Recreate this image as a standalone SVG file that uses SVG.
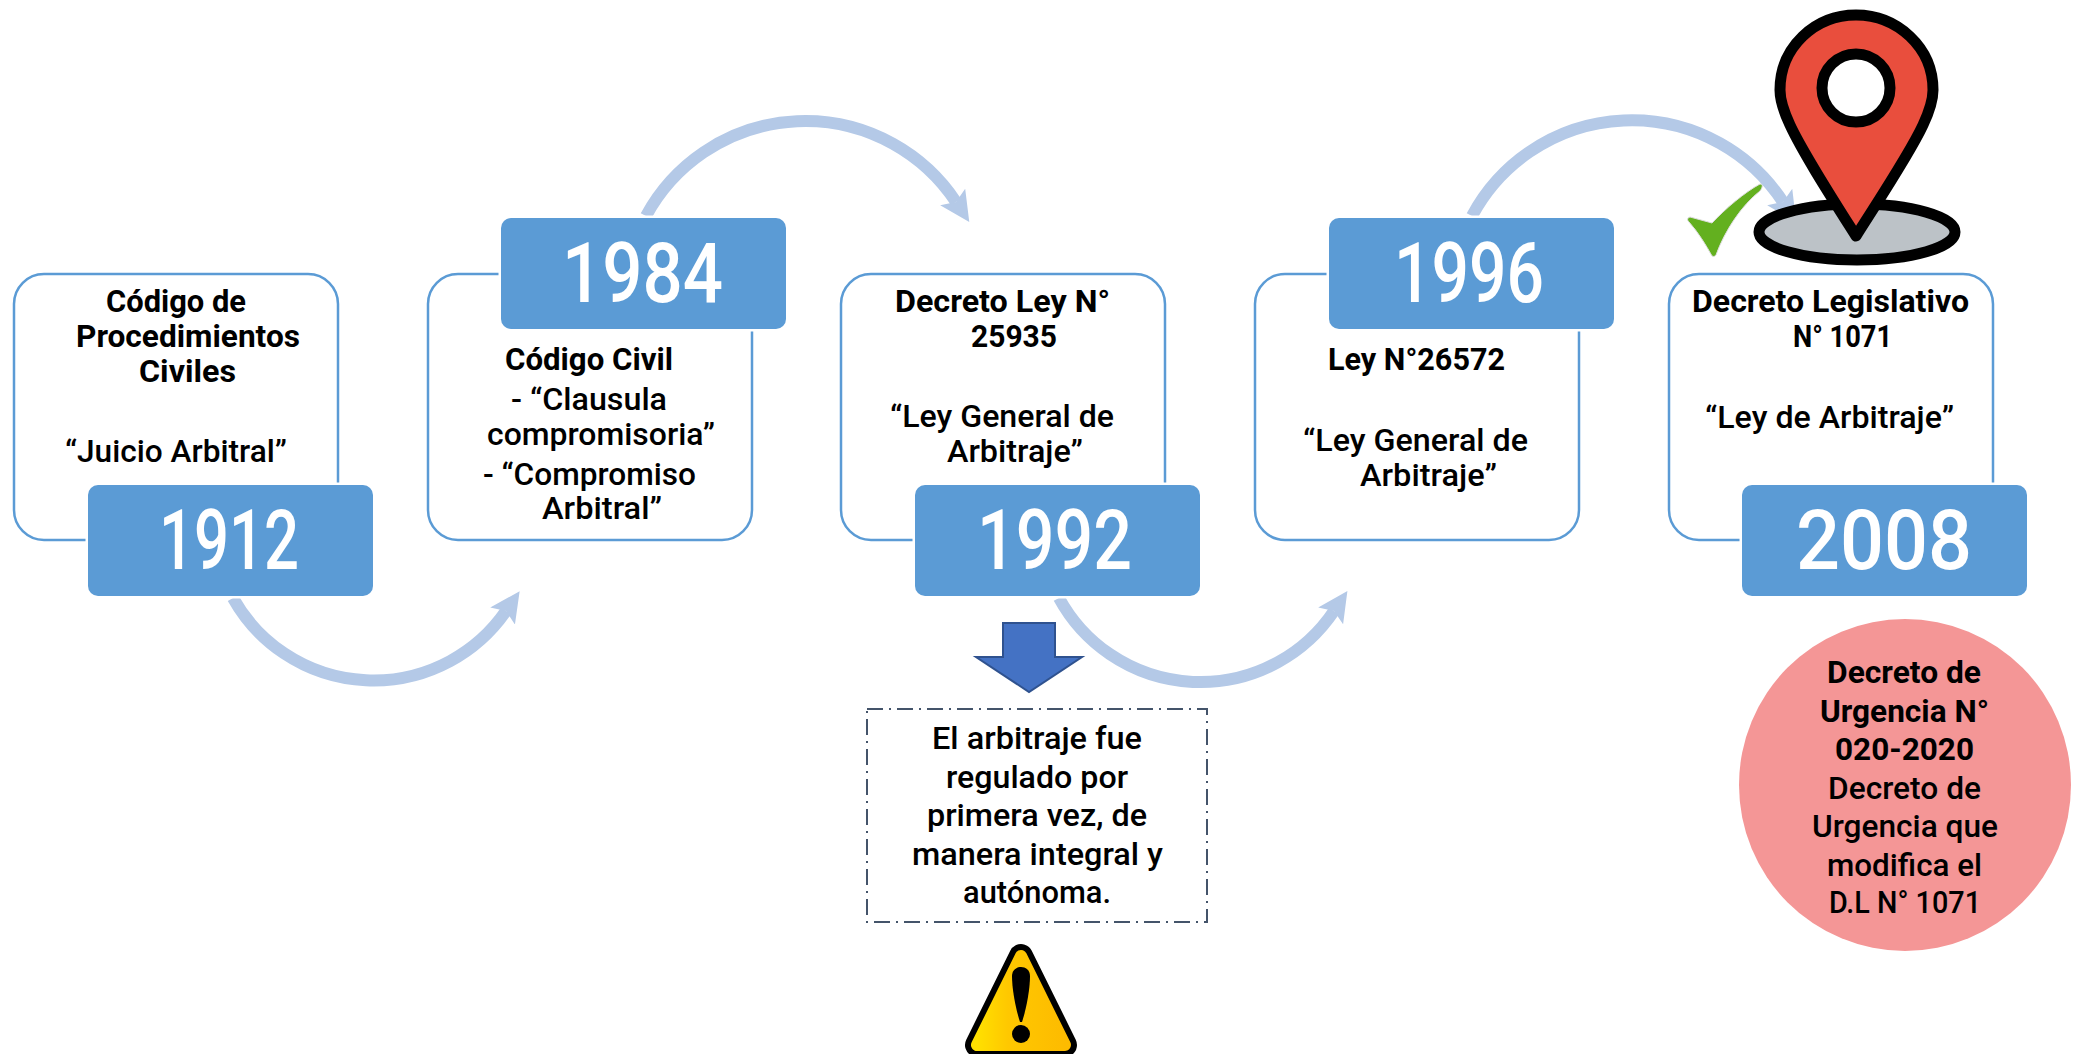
<svg xmlns="http://www.w3.org/2000/svg" width="2083" height="1054" viewBox="0 0 2083 1054">
<style>
text{font-family:Roboto,"Noto Sans",sans-serif;fill:#000;font-size:32px;font-weight:500}
.b{font-weight:700}
.y{fill:#fff;font-size:83px;font-weight:500}
.card{fill:#fff;stroke:#5b9bd5;stroke-width:2.5}
.year{fill:#5b9bd5;stroke:#fff;stroke-width:5;paint-order:stroke}
.arc{fill:none;stroke:#b4c9e7;stroke-width:12;marker-end:url(#h)}
</style>
<defs>
<marker id="h" markerUnits="userSpaceOnUse" markerWidth="40" markerHeight="40" refX="6" refY="20" orient="auto" viewBox="0 0 40 40"><path d="M0 5L30 20L0 35L6 20Z" fill="#b4c9e7"/></marker>
<linearGradient id="w" x1="0" x2="1" y1="0" y2="0"><stop offset="0" stop-color="#ffe000"/><stop offset=".35" stop-color="#ffc800"/><stop offset="1" stop-color="#fdbb00"/></linearGradient>
</defs>
<g id="connectors">
<path class="arc" d="M233 598A161 161 0 0 0 506 611"/>
<path class="arc" d="M646 216A181 181 0 0 1 956 202"/>
<path class="arc" d="M1059 598A161 161 0 0 0 1334 611"/>
<path class="arc" d="M1472 216A181 181 0 0 1 1783 202"/>
</g>
<g id="node-1912"><rect class="card" x="14" y="274" width="324" height="266" rx="30"/><rect class="year" x="88" y="485" width="285" height="111" rx="10"/>
<text class="y" x="159" y="569" textLength="140" lengthAdjust="spacingAndGlyphs">1912</text>
<text class="b" x="106" y="312" textLength="140" lengthAdjust="spacingAndGlyphs">Código de</text>
<text class="b" x="76" y="347" textLength="224" lengthAdjust="spacingAndGlyphs">Procedimientos</text>
<text class="b" x="139" y="382" textLength="97" lengthAdjust="spacingAndGlyphs">Civiles</text>
<text x="65" y="462" textLength="222" lengthAdjust="spacingAndGlyphs">“Juicio Arbitral”</text></g>
<g id="node-1984"><rect class="card" x="428" y="274" width="324" height="266" rx="30"/><rect class="year" x="501" y="218" width="285" height="111" rx="10"/>
<text class="y" x="562" y="302" textLength="161" lengthAdjust="spacingAndGlyphs">1984</text>
<text class="b" x="505" y="370" textLength="168" lengthAdjust="spacingAndGlyphs">Código Civil</text>
<text x="511" y="410" textLength="156" lengthAdjust="spacingAndGlyphs">- “Clausula</text>
<text x="487" y="445" textLength="228" lengthAdjust="spacingAndGlyphs">compromisoria”</text>
<text x="483" y="485" textLength="213" lengthAdjust="spacingAndGlyphs">- “Compromiso</text>
<text x="542" y="519" textLength="120" lengthAdjust="spacingAndGlyphs">Arbitral”</text></g>
<g id="node-1992"><rect class="card" x="841" y="274" width="324" height="266" rx="30"/><rect class="year" x="915" y="485" width="285" height="111" rx="10"/>
<text class="y" x="977" y="569" textLength="155" lengthAdjust="spacingAndGlyphs">1992</text>
<text class="b" x="895" y="312" textLength="215" lengthAdjust="spacingAndGlyphs">Decreto Ley N°</text>
<text class="b" x="971" y="347" textLength="86" lengthAdjust="spacingAndGlyphs">25935</text>
<text x="890" y="427" textLength="224" lengthAdjust="spacingAndGlyphs">“Ley General de</text>
<text x="947" y="462" textLength="136" lengthAdjust="spacingAndGlyphs">Arbitraje”</text></g>
<g id="node-1996"><rect class="card" x="1255" y="274" width="324" height="266" rx="30"/><rect class="year" x="1329" y="218" width="285" height="111" rx="10"/>
<text class="y" x="1394" y="302" textLength="150" lengthAdjust="spacingAndGlyphs">1996</text>
<text class="b" x="1328" y="370" textLength="177" lengthAdjust="spacingAndGlyphs">Ley N°26572</text>
<text x="1303" y="451" textLength="225" lengthAdjust="spacingAndGlyphs">“Ley General de</text>
<text x="1360" y="486" textLength="137" lengthAdjust="spacingAndGlyphs">Arbitraje”</text></g>
<g id="node-2008"><rect class="card" x="1669" y="274" width="324" height="266" rx="30"/><rect class="year" x="1742" y="485" width="285" height="111" rx="10"/>
<text class="y" x="1796" y="569" textLength="176" lengthAdjust="spacingAndGlyphs">2008</text>
<text class="b" x="1692" y="312" textLength="277" lengthAdjust="spacingAndGlyphs">Decreto Legislativo</text>
<text class="b" x="1793" y="347" textLength="99" lengthAdjust="spacingAndGlyphs">N° 1071</text>
<text x="1705" y="428" textLength="249" lengthAdjust="spacingAndGlyphs">“Ley de Arbitraje”</text></g>
<g id="node-urgencia"><circle cx="1905" cy="785" r="166" fill="#f49696"/>
<text class="b" x="1827" y="683" textLength="154" lengthAdjust="spacingAndGlyphs">Decreto de</text>
<text class="b" x="1820" y="722" textLength="169" lengthAdjust="spacingAndGlyphs">Urgencia N°</text>
<text class="b" x="1835" y="760" textLength="139" lengthAdjust="spacingAndGlyphs">020-2020</text>
<text x="1828" y="799" textLength="153" lengthAdjust="spacingAndGlyphs">Decreto de</text>
<text x="1812" y="837" textLength="186" lengthAdjust="spacingAndGlyphs">Urgencia que</text>
<text x="1827" y="876" textLength="155" lengthAdjust="spacingAndGlyphs">modifica el</text>
<text x="1829" y="913" textLength="152" lengthAdjust="spacingAndGlyphs">D.L N° 1071</text></g>
<g id="node-down-arrow"><path d="M1003 623H1055V657H1082L1029 692L976 657H1003Z" fill="#4472c4" stroke="#2f528f" stroke-width="2"/></g>
<g id="node-note"><rect x="867" y="709" width="340" height="213" fill="none" stroke="#44546a" stroke-width="2" stroke-dasharray="16 6 2 6"/>
<text x="932" y="749" textLength="210" lengthAdjust="spacingAndGlyphs">El arbitraje fue</text>
<text x="946" y="788" textLength="182" lengthAdjust="spacingAndGlyphs">regulado por</text>
<text x="927" y="826" textLength="220" lengthAdjust="spacingAndGlyphs">primera vez, de</text>
<text x="912" y="865" textLength="251" lengthAdjust="spacingAndGlyphs">manera integral y</text>
<text x="963" y="903" textLength="148" lengthAdjust="spacingAndGlyphs">autónoma.</text></g>
<g id="node-warning">
<path d="M1021 956L977 1045H1065Z" fill="#000" stroke="#000" stroke-width="24" stroke-linejoin="round"/>
<path d="M1021 956L977 1045H1065Z" fill="url(#w)" stroke="url(#w)" stroke-width="12" stroke-linejoin="round"/>
<path d="M1012 976C1012 964 1030 964 1030 976C1030 990 1026 1010 1022 1022H1020C1016 1010 1012 990 1012 976Z" fill="#000"/>
<circle cx="1021" cy="1034" r="9" fill="#000"/></g>
<g id="node-check"><path d="M1760 184C1745 192 1725 209 1712 223L1690 217C1687 218 1687 220 1689 222C1698 232 1706 245 1712 256C1714 257 1715 256 1716 255C1725 230 1742 205 1760 191C1763 187 1763 184 1760 184Z" fill="#63b01f" stroke="#ddd" stroke-width="1"/></g>
<g id="node-pin">
<ellipse cx="1857" cy="232" rx="98" ry="28" fill="#bcc2c7" stroke="#000" stroke-width="11"/>
<path d="M1856 236C1830 195 1803 153 1790 125C1783 110 1780 100 1780 90C1780 47 1815 15 1856 15C1897 15 1933 47 1933 90C1933 100 1930 110 1923 125C1910 153 1882 195 1856 236Z" fill="#e94e3d" stroke="#000" stroke-width="11" stroke-linejoin="round"/>
<circle cx="1856" cy="88" r="34" fill="#fff" stroke="#000" stroke-width="11"/></g>
</svg>
